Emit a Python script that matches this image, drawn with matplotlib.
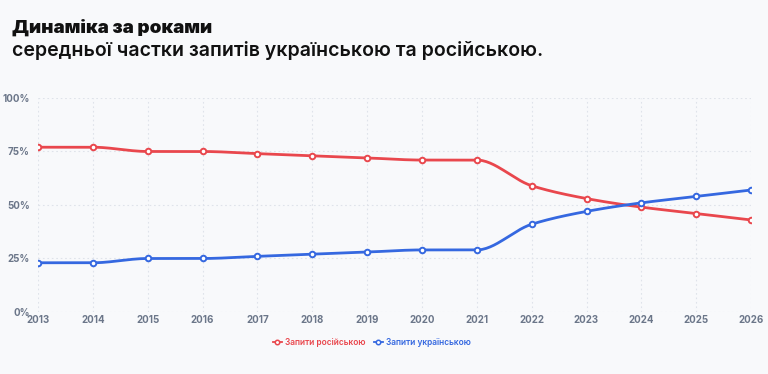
import matplotlib.pyplot as plt
import numpy as np

plt.rcParams['font.family'] = ['Inter', 'DejaVu Sans']

years = [2013, 2014, 2015, 2016, 2017, 2018, 2019, 2020, 2021, 2022, 2023, 2024, 2025, 2026]
russian = [77, 77, 75, 75, 74, 73, 72, 71, 71, 59, 53, 49, 46, 43]
ukrainian = [23, 23, 25, 25, 26, 27, 28, 29, 29, 41, 47, 51, 54, 57]

RED = '#e9474d'
BLUE = '#3568e0'
BG = '#f8f9fb'


def monotone(x, y, n=30):
    # monotone cubic curve through the points (like chart.js "monotone")
    x = np.asarray(x, float)
    y = np.asarray(y, float)
    h = np.diff(x)
    d = np.diff(y) / h
    m = np.zeros_like(y)
    m[0], m[-1] = d[0], d[-1]
    for i in range(1, len(y) - 1):
        if d[i - 1] * d[i] > 0:
            m[i] = 2 / (1 / d[i - 1] + 1 / d[i])
    xs, ys = [], []
    for i in range(len(h)):
        t = np.linspace(0, 1, n)
        h00 = 2 * t**3 - 3 * t**2 + 1
        h10 = t**3 - 2 * t**2 + t
        h01 = -2 * t**3 + 3 * t**2
        h11 = t**3 - t**2
        xs.append(x[i] + t * h[i])
        ys.append(h00 * y[i] + h10 * h[i] * m[i] + h01 * y[i + 1] + h11 * h[i] * m[i + 1])
    return np.concatenate(xs), np.concatenate(ys)


fig = plt.figure(figsize=(7.68, 3.74), dpi=100, facecolor=BG)
ax = fig.add_axes([0.0495, 0.1658, 0.9285, 0.5722], facecolor=BG)

for vals, col, name in [(russian, RED, 'Запити російською'), (ukrainian, BLUE, 'Запити українською')]:
    sx, sy = monotone(years, vals)
    ax.plot(sx, sy, color=col, lw=2, solid_capstyle='round', zorder=3)
    ax.plot(years, vals, 'o', ms=4, mfc='white', mec=col, mew=1.4, zorder=4)
    ax.plot([], [], '-o', color=col, lw=1.3, ms=3.2, mfc='white', mec=col, mew=1.1, label=name)

ax.set_xlim(2013, 2026)
ax.set_ylim(0, 100)
ax.set_xticks(years)
ax.set_yticks([0, 25, 50, 75, 100])
ax.set_yticklabels(['0%', '25%', '50%', '75%', '100%'])
ax.grid(True, color='#dfe3ea', ls=(0, (1.5, 2.5)), lw=0.8)
for s in ax.spines.values():
    s.set_visible(False)
ax.tick_params(length=0, labelsize=7, labelcolor='#6b7689')
ax.tick_params(axis='x', pad=2)
ax.tick_params(axis='y', pad=6)
for lab in ax.get_xticklabels() + ax.get_yticklabels():
    lab.set_fontweight('bold')

leg = ax.legend(loc='upper center', bbox_to_anchor=(0.468, -0.085), ncol=2, frameon=False,
                fontsize=6, handlelength=1.1, columnspacing=1.0, handletextpad=0.35,
                labelcolor='linecolor')
for t in leg.get_texts():
    t.set_fontweight('semibold')

fig.text(0.016, 0.925, 'Динаміка за роками', fontsize=13.5, fontweight='black', color='#111111', va='center')
fig.text(0.016, 0.866, 'середньої частки запитів українською та російською.', fontsize=14.05,
         fontweight='semibold', color='#111111', va='center')

fig.savefig('out.png', dpi=100, facecolor=BG)
